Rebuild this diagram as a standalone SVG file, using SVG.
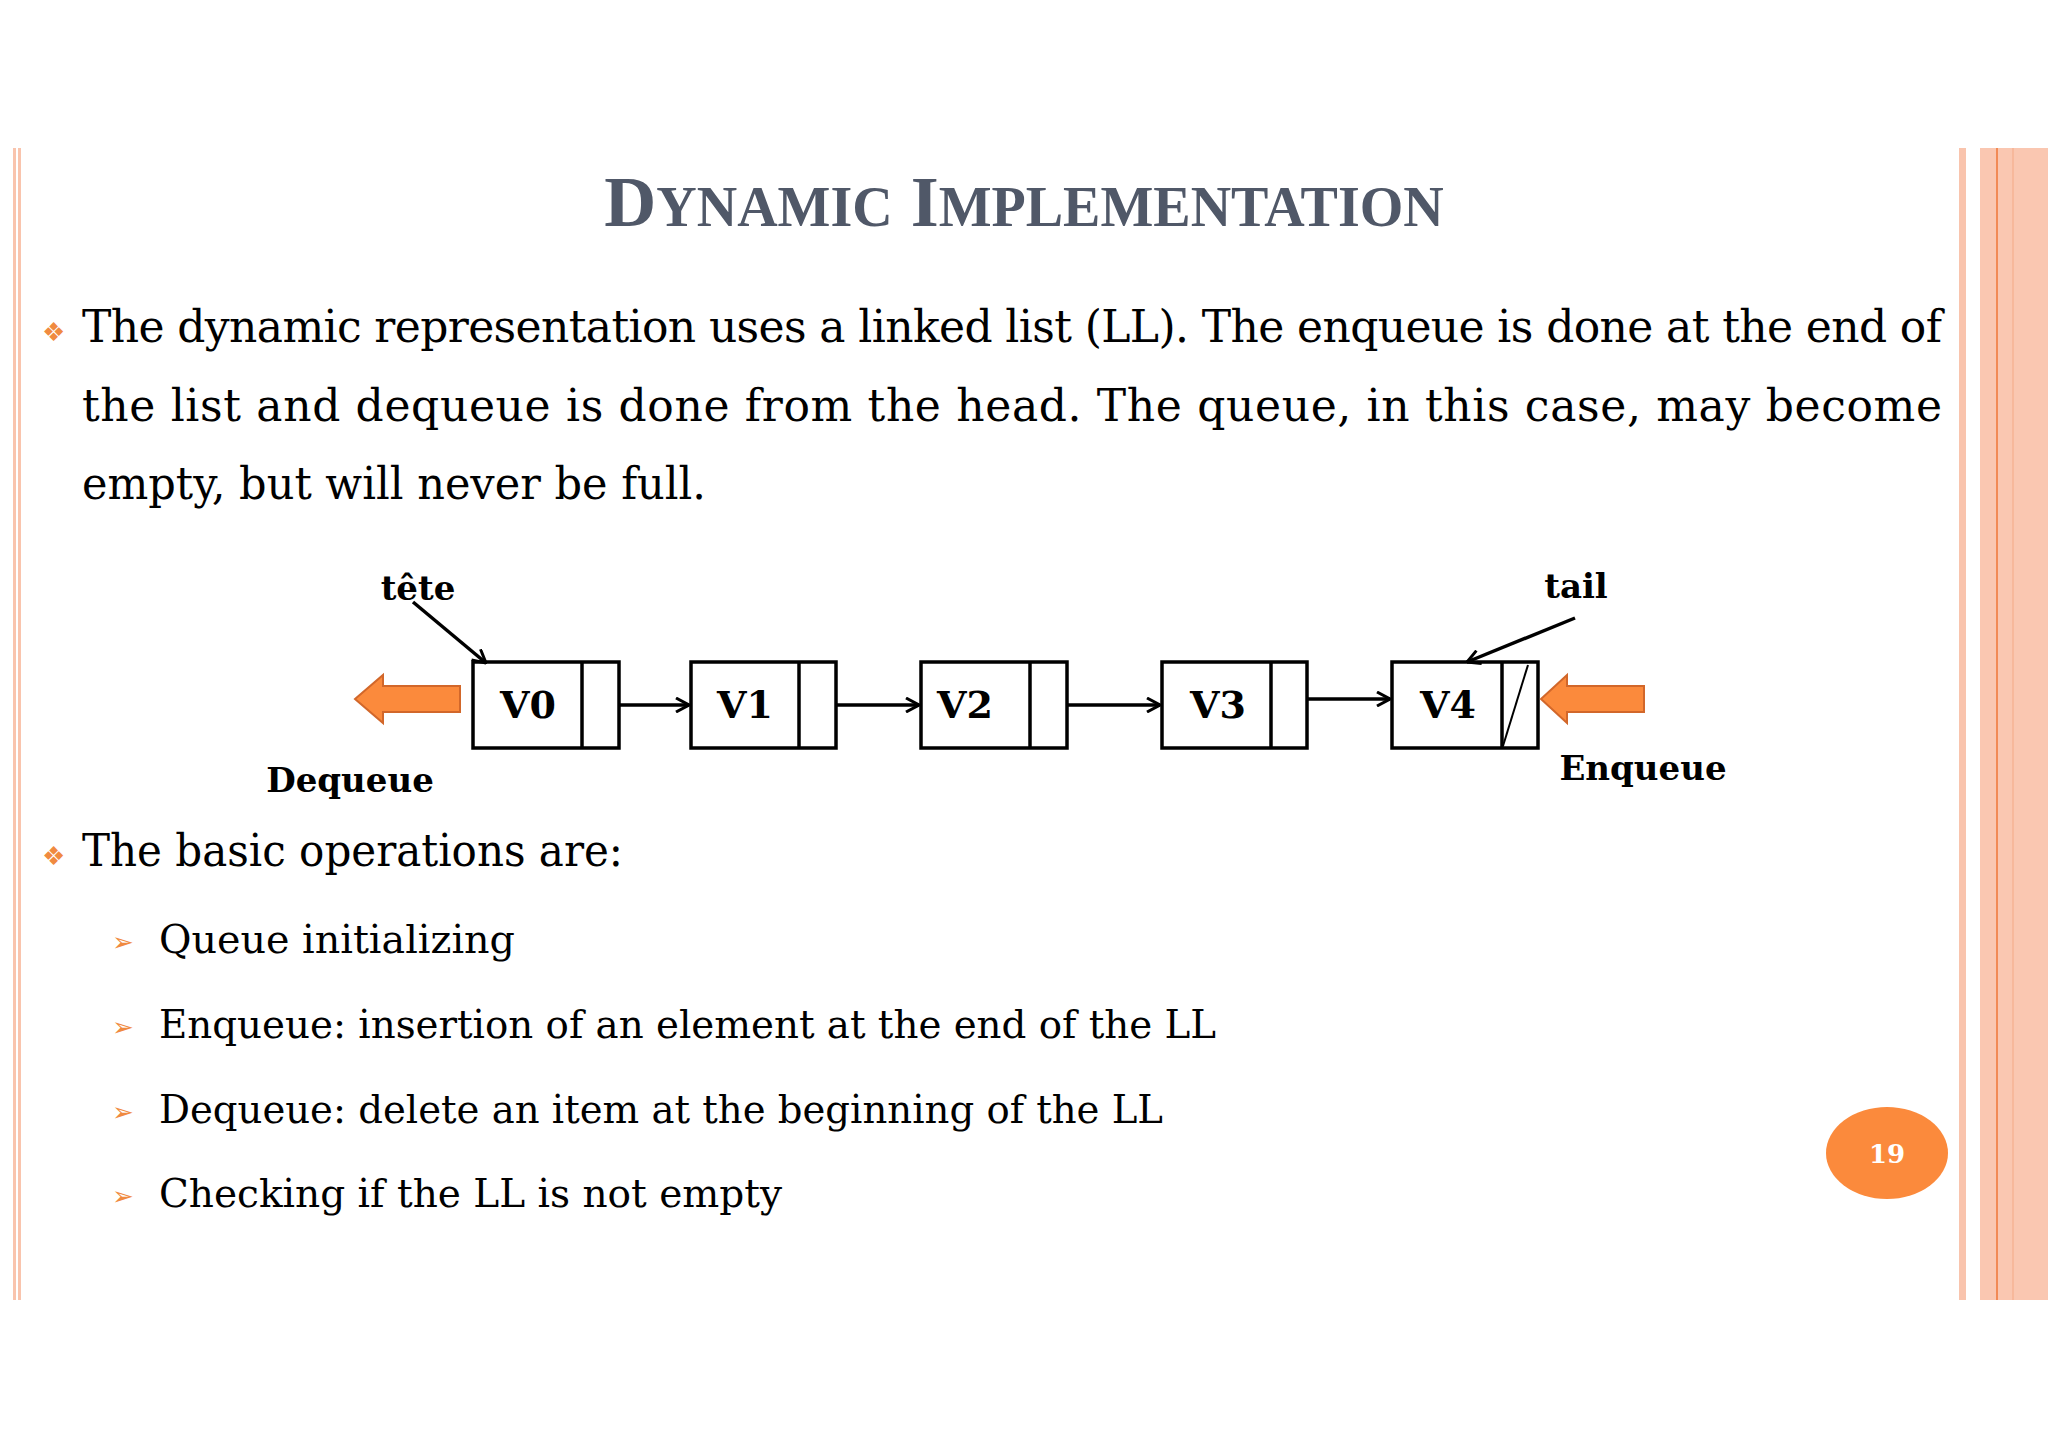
<svg xmlns="http://www.w3.org/2000/svg" width="2048" height="1447" viewBox="0 0 2048 1447">
<style>
.t{font-family:"DejaVu Serif","Liberation Serif",serif;font-size:44px;fill:#000}
.s{font-family:"DejaVu Serif","Liberation Serif",serif;font-size:39px;fill:#000}
.b{font-family:"DejaVu Serif","Liberation Serif",serif;font-weight:bold;font-size:34px;fill:#000}
.v{font-family:"DejaVu Serif","Liberation Serif",serif;font-weight:bold;font-size:38px;fill:#000}
.box{fill:#fff;stroke:#000;stroke-width:3.5}
.ln{stroke:#000;stroke-width:3.5;fill:none}
.oa{fill:#fb8a3c;stroke:#d2672a;stroke-width:2}
</style>
<defs>
<marker id="ah" viewBox="0 0 16 16" refX="15" refY="8" markerWidth="16" markerHeight="16" markerUnits="userSpaceOnUse" orient="auto"><path d="M2,1 L15,8 L2,15" fill="none" stroke="#000" stroke-width="3"/></marker>
</defs>
<rect width="2048" height="1447" fill="#fff"/>
<g id="frame">
<rect x="13" y="148" width="3" height="1152" fill="#f9c4ad"/>
<rect x="18" y="148" width="3" height="1152" fill="#f9c4ad"/>
<rect x="1959" y="148" width="7" height="1152" fill="#f9c4ad"/>
<rect x="1980" y="148" width="68" height="1152" fill="#fac7b1"/>
<rect x="1996" y="148" width="2" height="1152" fill="#f28a55"/>
<rect x="2012" y="148" width="2" height="1152" fill="#f7b89b"/>
</g>
<text x="1024" y="226" text-anchor="middle" font-family="Liberation Serif,serif" font-weight="bold" font-size="72" fill="#505868">D<tspan font-size="56">YNAMIC</tspan> I<tspan font-size="56">MPLEMENTATION</tspan></text>
<g id="text">
<text x="42" y="341" font-size="26" fill="#f08a40" font-family="DejaVu Sans,sans-serif">❖</text>
<text class="t" x="82" y="342" textLength="1860" lengthAdjust="spacing">The dynamic representation uses a linked list (LL). The enqueue is done at the end of</text>
<text class="t" x="82" y="421" textLength="1860" lengthAdjust="spacing">the list and dequeue is done from the head. The queue, in this case, may become</text>
<text class="t" x="82" y="499" textLength="624" lengthAdjust="spacingAndGlyphs">empty, but will never be full.</text>
<text x="42" y="865" font-size="26" fill="#f08a40" font-family="DejaVu Sans,sans-serif">❖</text>
<text class="t" x="82" y="866" textLength="541" lengthAdjust="spacingAndGlyphs">The basic operations are:</text>
<g fill="#f08a40" font-family="DejaVu Sans,sans-serif" font-size="26">
<text x="112" y="951">➢</text><text x="112" y="1036">➢</text><text x="112" y="1121">➢</text><text x="112" y="1205">➢</text>
</g>
<text class="s" x="159" y="953" textLength="356" lengthAdjust="spacingAndGlyphs">Queue initializing</text>
<text class="s" x="159" y="1038" textLength="1057" lengthAdjust="spacingAndGlyphs">Enqueue: insertion of an element at the end of the LL</text>
<text class="s" x="159" y="1123" textLength="1004" lengthAdjust="spacingAndGlyphs">Dequeue: delete an item at the beginning of the LL</text>
<text class="s" x="159" y="1207" textLength="623" lengthAdjust="spacingAndGlyphs">Checking if the LL is not empty</text>
</g>
<g id="n0"><rect class="box" x="473" y="662" width="146" height="86"/><line class="ln" x1="582" y1="662" x2="582" y2="748"/><text class="v" x="528" y="718" text-anchor="middle">V0</text></g>
<g id="n1"><rect class="box" x="691" y="662" width="145" height="86"/><line class="ln" x1="799" y1="662" x2="799" y2="748"/><text class="v" x="745" y="718" text-anchor="middle">V1</text></g>
<g id="n2"><rect class="box" x="921" y="662" width="146" height="86"/><line class="ln" x1="1030" y1="662" x2="1030" y2="748"/><text class="v" x="965" y="718" text-anchor="middle">V2</text></g>
<g id="n3"><rect class="box" x="1162" y="662" width="145" height="86"/><line class="ln" x1="1271" y1="662" x2="1271" y2="748"/><text class="v" x="1218" y="718" text-anchor="middle">V3</text></g>
<g id="n4"><rect class="box" x="1392" y="662" width="146" height="86"/><line class="ln" x1="1502" y1="662" x2="1502" y2="748"/><line x1="1528" y1="665" x2="1503" y2="746" stroke="#000" stroke-width="2"/><text class="v" x="1448" y="718" text-anchor="middle">V4</text></g>
<g id="connectors">
<line class="ln" x1="619" y1="705" x2="689" y2="705" marker-end="url(#ah)"/>
<line class="ln" x1="836" y1="705" x2="919" y2="705" marker-end="url(#ah)"/>
<line class="ln" x1="1067" y1="705" x2="1160" y2="705" marker-end="url(#ah)"/>
<line class="ln" x1="1307" y1="699" x2="1390" y2="699" marker-end="url(#ah)"/>
<line class="ln" x1="413" y1="602" x2="486" y2="663" marker-end="url(#ah)"/>
<line class="ln" x1="1575" y1="618" x2="1467" y2="662" marker-end="url(#ah)"/>
</g>
<g id="labels">
<text class="b" x="418" y="600" text-anchor="middle">tête</text>
<text class="b" x="1576" y="598" text-anchor="middle">tail</text>
<text class="b" x="350" y="792" text-anchor="middle">Dequeue</text>
<text class="b" x="1643" y="780" text-anchor="middle">Enqueue</text>
</g>
<g id="dequeue-arrow"><path class="oa" d="M355,699 L383,675 L383,686 L460,686 L460,712 L383,712 L383,723 Z"/></g>
<g id="enqueue-arrow"><path class="oa" d="M1541,699 L1567,675 L1567,686 L1644,686 L1644,712 L1567,712 L1567,723 Z"/></g>
<g id="page"><ellipse cx="1887" cy="1153" rx="61" ry="46" fill="#fb8a3c"/><text x="1887" y="1163" text-anchor="middle" font-family="DejaVu Serif,serif" font-weight="bold" font-size="26" fill="#fff">19</text></g>
</svg>
